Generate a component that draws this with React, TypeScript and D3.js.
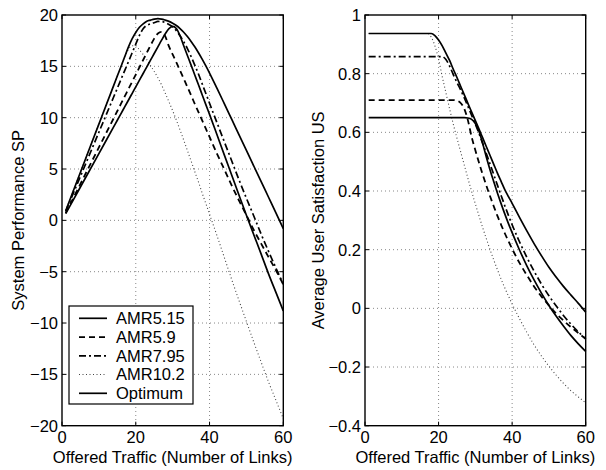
import React from "react";
import * as d3 from "d3";

// Offered traffic (number of links)
const X = [1, 5, 10, 14, 15, 16, 17, 18, 19, 20, 21, 22, 23, 24, 25, 26, 27, 28, 29, 30, 31, 32, 33, 34, 35, 36, 37, 38, 39, 40, 42, 44, 46, 48, 50, 52, 54, 56, 58, 60];

// System Performance SP
const spAMR515 = [0.65, 3.25, 6.5, 9.1, 9.75, 10.4, 11.05, 11.7, 12.35, 13.0, 13.65, 14.3, 14.95, 15.6, 16.25, 16.9, 17.55, 18.17, 18.68, 18.9, 18.69, 17.98, 17.0, 16.05, 15.12, 14.15, 13.21, 12.24, 11.27, 10.32, 8.36, 6.38, 4.42, 2.45, 0.5, -1.4, -3.29, -5.21, -7.02, -8.82];
const spAMR59 = [0.71, 3.55, 7.1, 9.94, 10.65, 11.36, 12.07, 12.78, 13.49, 14.2, 14.91, 15.62, 16.33, 17.04, 17.7, 18.2, 18.36, 17.92, 16.94, 16.17, 15.38, 14.59, 13.79, 12.99, 12.18, 11.34, 10.55, 9.73, 8.93, 8.12, 6.51, 4.97, 3.4, 1.92, 0.5, -0.94, -2.27, -3.58, -4.87, -6.24];
const spAMR795 = [0.858, 4.29, 8.58, 12.01, 12.87, 13.73, 14.59, 15.44, 16.3, 17.16, 18.02, 18.66, 19.0, 19.13, 19.25, 19.37, 19.36, 19.26, 19.08, 18.84, 18.48, 17.98, 17.39, 16.73, 15.96, 15.12, 14.25, 13.3, 12.36, 11.4, 9.53, 7.66, 5.8, 3.94, 2.15, 0.42, -1.35, -3.02, -4.64, -6.24];
const spAMR102 = [0.937, 4.69, 9.37, 13.12, 14.06, 14.99, 15.93, 16.65, 17.0, 17.0, 16.59, 16.17, 15.64, 15.07, 14.5, 13.88, 13.18, 12.38, 11.54, 10.68, 9.77, 8.8, 7.82, 6.8, 5.78, 4.75, 3.74, 2.66, 1.64, 0.6, -1.47, -3.61, -5.75, -7.82, -9.85, -11.86, -13.82, -15.74, -17.52, -19.32];
const spOptimum = [0.937, 4.69, 9.37, 13.12, 14.06, 14.99, 15.93, 16.87, 17.67, 18.3, 18.8, 19.14, 19.4, 19.5, 19.6, 19.65, 19.6, 19.5, 19.38, 19.2, 18.98, 18.68, 18.32, 17.9, 17.43, 16.9, 16.32, 15.7, 15.04, 14.35, 12.88, 11.37, 9.85, 8.33, 6.81, 5.29, 3.77, 2.25, 0.73, -0.8];

// Average User Satisfaction US
const usAMR515 = [0.65, 0.65, 0.65, 0.65, 0.65, 0.65, 0.65, 0.65, 0.65, 0.65, 0.65, 0.65, 0.65, 0.65, 0.65, 0.65, 0.65, 0.649, 0.644, 0.63, 0.603, 0.562, 0.515, 0.472, 0.432, 0.393, 0.357, 0.322, 0.289, 0.258, 0.199, 0.145, 0.096, 0.051, 0.01, -0.027, -0.061, -0.093, -0.121, -0.147];
const usAMR59 = [0.71, 0.71, 0.71, 0.71, 0.71, 0.71, 0.71, 0.71, 0.71, 0.71, 0.71, 0.71, 0.71, 0.71, 0.708, 0.7, 0.68, 0.64, 0.584, 0.539, 0.496, 0.456, 0.418, 0.382, 0.348, 0.315, 0.285, 0.256, 0.229, 0.203, 0.155, 0.113, 0.074, 0.04, 0.01, -0.018, -0.042, -0.064, -0.084, -0.104];
const usAMR795 = [0.858, 0.858, 0.858, 0.858, 0.858, 0.858, 0.858, 0.858, 0.858, 0.858, 0.858, 0.848, 0.826, 0.797, 0.77, 0.745, 0.717, 0.688, 0.658, 0.628, 0.596, 0.562, 0.527, 0.492, 0.456, 0.42, 0.385, 0.35, 0.317, 0.285, 0.227, 0.174, 0.126, 0.082, 0.043, 0.008, -0.025, -0.054, -0.08, -0.104];
const usAMR102 = [0.937, 0.937, 0.937, 0.937, 0.937, 0.937, 0.937, 0.925, 0.895, 0.85, 0.79, 0.735, 0.68, 0.628, 0.58, 0.534, 0.488, 0.442, 0.398, 0.356, 0.315, 0.275, 0.237, 0.2, 0.165, 0.132, 0.1, 0.07, 0.042, 0.015, -0.035, -0.082, -0.125, -0.163, -0.197, -0.228, -0.256, -0.281, -0.302, -0.322];
const usOptimum = [0.937, 0.937, 0.937, 0.937, 0.937, 0.937, 0.937, 0.937, 0.93, 0.915, 0.895, 0.87, 0.845, 0.815, 0.787, 0.757, 0.728, 0.698, 0.669, 0.64, 0.611, 0.581, 0.551, 0.521, 0.491, 0.461, 0.433, 0.405, 0.381, 0.358, 0.31, 0.264, 0.22, 0.179, 0.14, 0.106, 0.074, 0.045, 0.017, -0.013];

const seriesNames = ["AMR5.15", "AMR5.9", "AMR7.95", "AMR10.2", "Optimum"];

const xTicks = [0, 20, 40, 60];
const xTickLabels = ["0", "20", "40", "60"];
const spTicks = [-20, -15, -10, -5, 0, 5, 10, 15, 20];
const spTickLabels = ["\u221220", "\u221215", "\u221210", "\u22125", "0", "5", "10", "15", "20"];
const usTicks = [-0.4, -0.2, 0, 0.2, 0.4, 0.6, 0.8, 1];
const usTickLabels = ["\u22120.4", "\u22120.2", "0", "0.2", "0.4", "0.6", "0.8", "1"];

const STYLES: Record<string, { dash?: string; width: number; color: string }> = {
  "AMR5.15": { width: 1.7, color: "#000" },
  "AMR5.9": { dash: "6,4", width: 1.8, color: "#000" },
  "AMR7.95": { dash: "7,3,2,3", width: 1.7, color: "#000" },
  "AMR10.2": { dash: "1,2.5", width: 1.1, color: "#444" },
  Optimum: { width: 1.7, color: "#000" },
};

const FONT = "'Liberation Sans', Arial, Helvetica, sans-serif";
const FS = 16.5;

type PanelProps = {
  x0: number;
  x1: number;
  y0: number;
  y1: number;
  yDomain: [number, number];
  yTicks: number[];
  yTickLabels: string[];
  yLabel: string;
  yLabelX: number;
  series: number[][];
  legend?: boolean;
};

function Panel(p: PanelProps) {
  const xs = d3.scaleLinear().domain([0, 60]).range([p.x0, p.x1]);
  const ys = d3.scaleLinear().domain(p.yDomain).range([p.y1, p.y0]);
  const tl = 4;
  const drawOrder = [3, 2, 1, 0, 4];
  const yMid = (p.y0 + p.y1) / 2;
  return (
    <g>
      {xTicks.slice(1, -1).map((t) => (
        <line key={"gx" + t} x1={xs(t)} x2={xs(t)} y1={p.y0} y2={p.y1} stroke="#555" strokeWidth={0.7} strokeDasharray="1,3" />
      ))}
      {p.yTicks.slice(1, -1).map((t) => (
        <line key={"gy" + t} x1={p.x0} x2={p.x1} y1={ys(t)} y2={ys(t)} stroke="#555" strokeWidth={0.7} strokeDasharray="1,3" />
      ))}
      {drawOrder.map((i) => {
        const name = seriesNames[i];
        const st = STYLES[name];
        const line = d3
          .line<number>()
          .x((_, k) => xs(X[k]))
          .y((v) => ys(v))
          .curve(d3.curveMonotoneX);
        return (
          <path key={name} d={line(p.series[i]) || ""} fill="none" stroke={st.color} strokeWidth={st.width} strokeDasharray={st.dash} strokeLinejoin="round" />
        );
      })}
      <rect x={p.x0} y={p.y0} width={p.x1 - p.x0} height={p.y1 - p.y0} fill="none" stroke="#000" strokeWidth={1.4} />
      {xTicks.map((t) => (
        <g key={"tx" + t}>
          <line x1={xs(t)} x2={xs(t)} y1={p.y1} y2={p.y1 - tl} stroke="#000" strokeWidth={1} />
          <line x1={xs(t)} x2={xs(t)} y1={p.y0} y2={p.y0 + tl} stroke="#000" strokeWidth={1} />
        </g>
      ))}
      {p.yTicks.map((t) => (
        <g key={"ty" + t}>
          <line x1={p.x0} x2={p.x0 + tl} y1={ys(t)} y2={ys(t)} stroke="#000" strokeWidth={1} />
          <line x1={p.x1} x2={p.x1 - tl} y1={ys(t)} y2={ys(t)} stroke="#000" strokeWidth={1} />
        </g>
      ))}
      {xTicks.map((t, i) => (
        <text key={"lx" + t} x={xs(t)} y={p.y1 + 17.5} textAnchor="middle" fontFamily={FONT} fontSize={FS}>
          {xTickLabels[i]}
        </text>
      ))}
      {p.yTicks.map((t, i) => (
        <text key={"ly" + t} x={p.x0 - 4} y={ys(t)} dy="0.36em" textAnchor="end" fontFamily={FONT} fontSize={FS}>
          {p.yTickLabels[i]}
        </text>
      ))}
      <text x={(p.x0 + p.x1) / 2} y={p.y1 + 37.5} textAnchor="middle" fontFamily={FONT} fontSize={FS}>
        Offered Traffic (Number of Links)
      </text>
      <text transform={`translate(${p.yLabelX},${yMid}) rotate(-90)`} textAnchor="middle" fontFamily={FONT} fontSize={FS}>
        {p.yLabel}
      </text>
      {p.legend && (
        <g>
          <rect x={69} y={306} width={124} height={98} fill="#fff" stroke="#000" strokeWidth={1.2} />
          {seriesNames.map((name, i) => {
            const st = STYLES[name];
            const cy = 318.3 + i * 18.75;
            return (
              <g key={"lg" + name}>
                <line x1={79} x2={107} y1={cy} y2={cy} stroke={st.color} strokeWidth={st.width} strokeDasharray={st.dash} />
                <text x={116} y={cy} dy="0.36em" fontFamily={FONT} fontSize={FS}>
                  {name}
                </text>
              </g>
            );
          })}
        </g>
      )}
    </g>
  );
}

export default function App() {
  return (
    <svg width={606} height={470} style={{ position: "absolute", left: 0, top: 0, background: "#fff" }}>
      <rect x={0} y={0} width={606} height={470} fill="#fff" />
      <Panel
        x0={62}
        x1={283.3}
        y0={15}
        y1={425.7}
        yDomain={[-20, 20]}
        yTicks={spTicks}
        yTickLabels={spTickLabels}
        yLabel="System Performance SP"
        yLabelX={24}
        series={[spAMR515, spAMR59, spAMR795, spAMR102, spOptimum]}
        legend
      />
      <Panel
        x0={365}
        x1={585.7}
        y0={15}
        y1={425.7}
        yDomain={[-0.4, 1]}
        yTicks={usTicks}
        yTickLabels={usTickLabels}
        yLabel="Average User Satisfaction US"
        yLabelX={324}
        series={[usAMR515, usAMR59, usAMR795, usAMR102, usOptimum]}
      />
    </svg>
  );
}
